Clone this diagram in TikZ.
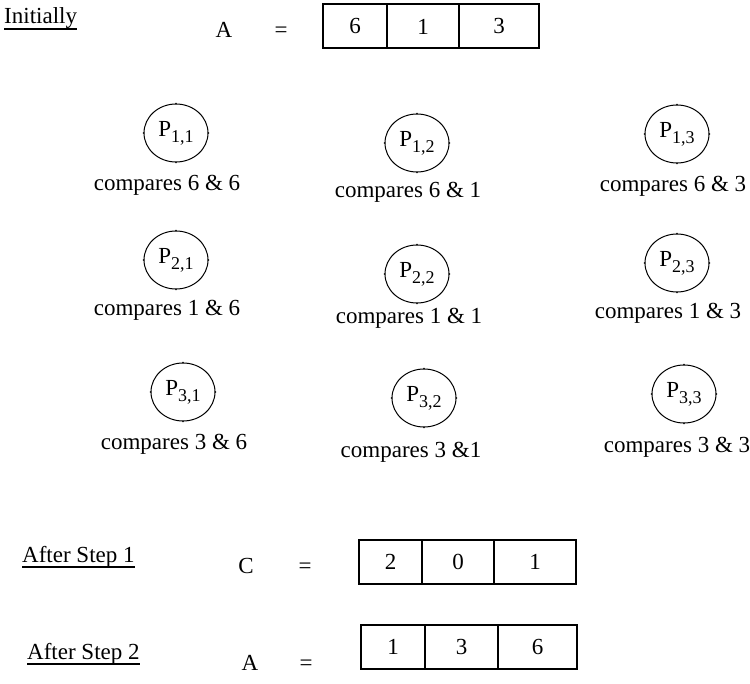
\documentclass[tikz,border=0pt]{standalone}
\usepackage{fontspec}
\setmainfont{Liberation Serif}
\usetikzlibrary{positioning,shapes.geometric,calc}
\newcommand{\figfont}{\fontsize{23}{27}\selectfont}
\newcommand{\procname}[1]{P\raisebox{-6pt}{\fontsize{18}{20}\selectfont #1}}

\begin{document}
\begin{tikzpicture}[x=1pt, y=-1pt,
    txt/.style={font=\figfont, inner sep=0pt},
    cell/.style={draw, line width=2pt, minimum height=44pt,
      inner sep=0pt, outer sep=0pt, font=\figfont},
    proc/.style={draw, ellipse, line width=1pt, minimum width=64pt,
      minimum height=58pt, inner sep=0pt, font=\figfont},
    uline/.style={line width=1.6pt}]
  \useasboundingbox (0,0) rectangle (750,684);

  % ── Initial array ─────────────────────────────────────────
  \node[txt, anchor=base west] (init) at (4,24) {Initially};
  \draw[uline] ($(init.base west)+(0,5)$) -- ($(init.base east)+(0,5)$);
  \node[txt, anchor=base] (nameA) at (224,38) {A};
  \node[txt, anchor=base] (eqA) at (281,38) {=};
  \node[cell, minimum width=64pt] (a1) at (355,26.5) {6};
  \node[cell, minimum width=72pt, right=0pt of a1] (a2) {1};
  \node[cell, minimum width=80pt, right=0pt of a2] (a3) {3};

  % ── Processors, row 1 ─────────────────────────────────────
  \node[proc] (p11) at (176,133) {\procname{1,1}};
  \node[txt] (c11) at (167,185) {compares 6 \& 6};
  \node[proc] (p12) at (417,143) {\procname{1,2}};
  \node[txt] (c12) at (408,192) {compares 6 \& 1};
  \node[proc] (p13) at (677,134) {\procname{1,3}};
  \node[txt] (c13) at (673,186) {compares 6 \& 3};

  % ── Processors, row 2 ─────────────────────────────────────
  \node[proc] (p21) at (176,260) {\procname{2,1}};
  \node[txt] (c21) at (167,310) {compares 1 \& 6};
  \node[proc] (p22) at (417,274) {\procname{2,2}};
  \node[txt] (c22) at (409,318) {compares 1 \& 1};
  \node[proc] (p23) at (677,263) {\procname{2,3}};
  \node[txt] (c23) at (668,313) {compares 1 \& 3};

  % ── Processors, row 3 ─────────────────────────────────────
  \node[proc] (p31) at (183,392) {\procname{3,1}};
  \node[txt] (c31) at (174,444) {compares 3 \& 6};
  \node[proc] (p32) at (424,398) {\procname{3,2}};
  \node[txt] (c32) at (411,452) {compares 3 \&1};
  \node[proc] (p33) at (684,394) {\procname{3,3}};
  \node[txt] (c33) at (677,447) {compares 3 \& 3};

  % small marks on the circles
  \foreach \p in {p11,p12,p13,p21,p22,p23,p31,p32,p33}
    \foreach \a in {north,south,east,west}
      \fill (\p.\a) circle (0.8pt);

  % ── After step 1 ──────────────────────────────────────────
  \node[txt, anchor=base west] (step1) at (22,562) {After Step 1};
  \draw[uline] ($(step1.base west)+(0,5)$) -- ($(step1.base east)+(0,5)$);
  \node[txt, anchor=base] (nameC) at (246,573) {C};
  \node[txt, anchor=base] (eqC) at (305,573) {=};
  \node[cell, minimum width=63pt] (b1) at (390.5,561.5) {2};
  \node[cell, minimum width=72pt, right=0pt of b1] (b2) {0};
  \node[cell, minimum width=82pt, right=0pt of b2] (b3) {1};

  % ── After step 2 ──────────────────────────────────────────
  \node[txt, anchor=base west] (step2) at (27,659) {After Step 2};
  \draw[uline] ($(step2.base west)+(0,5)$) -- ($(step2.base east)+(0,5)$);
  \node[txt, anchor=base] (nameA2) at (250,670) {A};
  \node[txt, anchor=base] (eqA2) at (306,670) {=};
  \node[cell, minimum width=64pt] (d1) at (393,646.5) {1};
  \node[cell, minimum width=73pt, right=0pt of d1] (d2) {3};
  \node[cell, minimum width=79pt, right=0pt of d2] (d3) {6};
\end{tikzpicture}
\end{document}
